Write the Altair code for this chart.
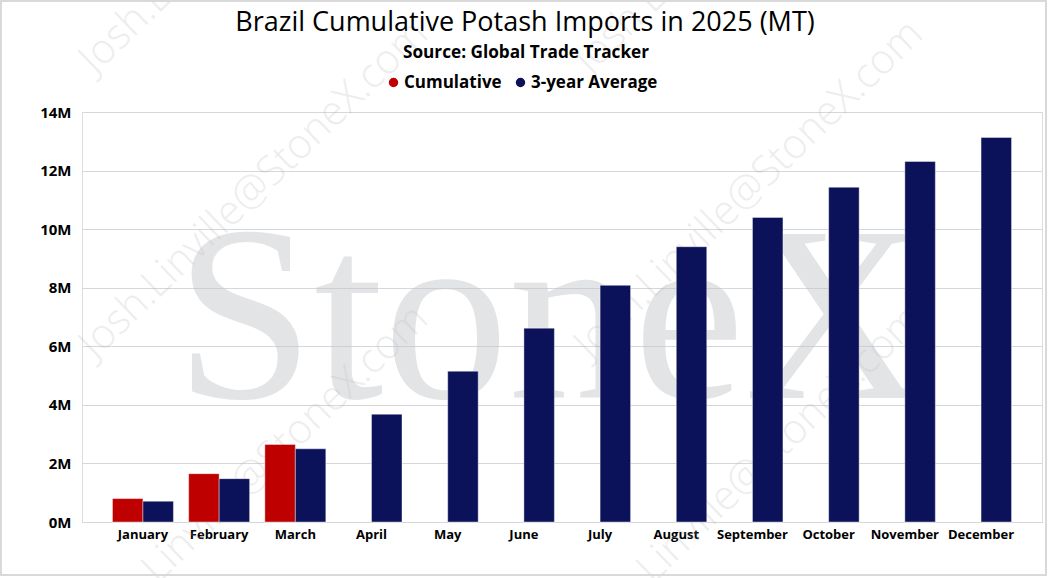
import altair as alt
import pandas as pd

months = ["January", "February", "March", "April", "May", "June", "July",
          "August", "September", "October", "November", "December"]
cumulative = [0.80e6, 1.65e6, 2.65e6, None, None, None, None, None, None, None, None, None]
three_year_avg = [0.71e6, 1.48e6, 2.50e6, 3.68e6, 5.15e6, 6.62e6, 8.08e6,
                  9.40e6, 10.40e6, 11.43e6, 12.31e6, 13.13e6]
series_names = ["Cumulative", "3-year Average"]
series_colors = ["#bf0000", "#0c1259"]
y_ticks = [0, 2e6, 4e6, 6e6, 8e6, 10e6, 12e6, 14e6]
title_text = "Brazil Cumulative Potash Imports in 2025 (MT)"
subtitle_text = "Source: Global Trade Tracker"

rows = []
for m, c, a in zip(months, cumulative, three_year_avg):
    rows.append({"month": m, "series": series_names[0], "value": c})
    rows.append({"month": m, "series": series_names[1], "value": a})
df = pd.DataFrame(rows)

FONT = "Open Sans"
W, H = 960, 410
PAD_L, PAD_T = 82, 112

one = alt.Data(values=[{"k": 1}])

# Watermark email text (decoration)
wm_layers = []
for px, py in [(95, 75), (95, 360), (95, 645), (590, 75), (590, 360), (590, 645)]:
    wm_layers.append(
        alt.Chart(one).mark_text(
            text="Josh.Linville@StoneX.com", font=FONT, fontSize=41, fontWeight=300,
            angle=316, align="left", baseline="alphabetic", color="#a8a8a8", opacity=0.2
        ).encode(x=alt.value(px - PAD_L), y=alt.value(py - PAD_T))
    )

stonex = alt.Chart(one).mark_text(
    text="StoneX", font="Liberation Serif", fontSize=250, align="left",
    baseline="alphabetic", color="#c2c4c9", opacity=0.45
).encode(x=alt.value(175 - PAD_L), y=alt.value(398 - PAD_T))

title_mark = alt.Chart(one).mark_text(
    text=title_text, font=FONT, fontSize=27, fontWeight="normal", color="black",
    align="center", baseline="alphabetic"
).encode(x=alt.value(525 - PAD_L), y=alt.value(31 - PAD_T))

subtitle_mark = alt.Chart(one).mark_text(
    text=subtitle_text, font=FONT, fontSize=17.2, fontWeight="bold", color="black",
    align="center", baseline="alphabetic"
).encode(x=alt.value(526 - PAD_L), y=alt.value(58 - PAD_T))

bars = alt.Chart(df).mark_bar(
    stroke="white", strokeOpacity=0.4, strokeWidth=1
).encode(
    x=alt.X("month:N", sort=months,
            scale=alt.Scale(paddingInner=0.2, paddingOuter=0.4),
            axis=alt.Axis(title=None, labelAngle=0, ticks=False, domain=True,
                          domainColor="#d5d7dc", labelFont=FONT, labelFontSize=13,
                          labelFontWeight="bold", labelColor="black", labelPadding=6)),
    xOffset=alt.XOffset("series:N", sort=series_names,
                        scale=alt.Scale(domain=series_names, paddingInner=0, paddingOuter=0)),
    y=alt.Y("value:Q", scale=alt.Scale(domain=[0, 14e6], nice=False),
            axis=alt.Axis(title=None, values=y_ticks, ticks=False, domain=False,
                          labelExpr="datum.value / 1000000 + 'M'",
                          gridColor="#d5d7dc", labelFont=FONT, labelFontSize=15,
                          labelFontWeight="bold", labelColor="black", labelPadding=11)),
    color=alt.Color("series:N", sort=series_names,
                    scale=alt.Scale(domain=series_names, range=series_colors),
                    legend=alt.Legend(title=None, orient="none", direction="horizontal",
                                      legendX=303, legendY=-38, symbolType="circle",
                                      symbolSize=120, labelFont=FONT, labelFontSize=17,
                                      labelFontWeight="bold", labelColor="black",
                                      labelOffset=2, columnPadding=10)),
)

border = alt.Chart(one).mark_rect(
    fill=None, stroke="#d9d9d9", strokeWidth=2
).encode(x=alt.value(1 - PAD_L), x2=alt.value(1046 - PAD_L),
         y=alt.value(1 - PAD_T), y2=alt.value(575 - PAD_T))

chart = alt.layer(*wm_layers, stonex, title_mark, subtitle_mark, bars, border).properties(
    width=W, height=H,
    autosize="none",
    padding={"left": PAD_L, "top": PAD_T, "right": 1049 - PAD_L - W, "bottom": 578 - PAD_T - H},
).configure_view(stroke=None).configure(background="white")

chart.save("out.html", embed_options={"renderer": "svg", "actions": False})
